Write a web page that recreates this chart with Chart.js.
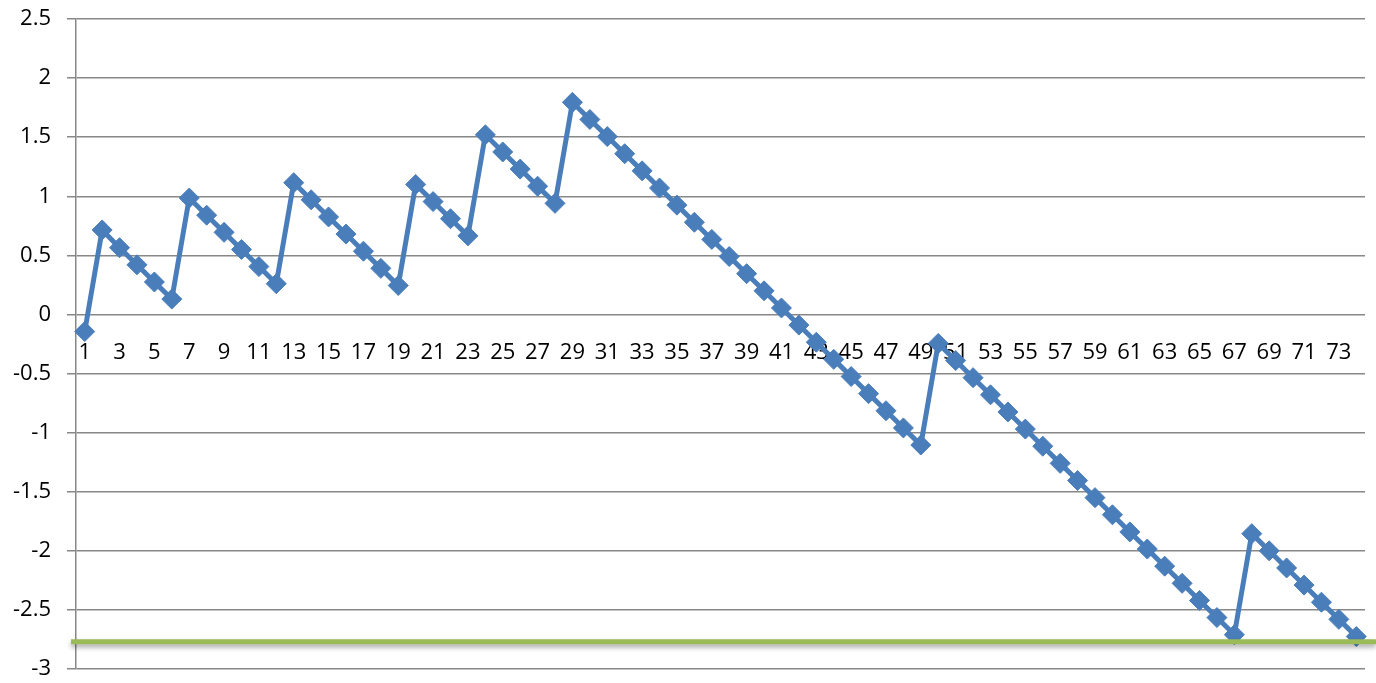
<!DOCTYPE html>
<html>
<head>
<meta charset="utf-8">
<title>Series</title>
<script src="https://cdn.jsdelivr.net/npm/chart.js@4/dist/chart.umd.min.js"></script>
<style>
  html, body { margin: 0; padding: 0; background: #ffffff; }
  #wrap { width: 1376px; height: 683px; position: relative; }
</style>
</head>
<body>
<div id="wrap"><canvas id="chart"></canvas></div>
<script>
// Category labels 1..74
const categories = [
  1, 2, 3, 4, 5, 6, 7, 8, 9, 10, 11, 12, 13, 14, 15, 16, 17, 18, 19, 20,
  21, 22, 23, 24, 25, 26, 27, 28, 29, 30, 31, 32, 33, 34, 35, 36, 37, 38, 39, 40,
  41, 42, 43, 44, 45, 46, 47, 48, 49, 50, 51, 52, 53, 54, 55, 56, 57, 58, 59, 60,
  61, 62, 63, 64, 65, 66, 67, 68, 69, 70, 71, 72, 73, 74
];

// Series values
const seriesValues = [
  -0.145, 0.715, 0.565, 0.42, 0.275, 0.13, 0.985, 0.84, 0.695, 0.55,
  0.405, 0.26, 1.115, 0.97, 0.825, 0.68, 0.535, 0.39, 0.245, 1.10,
  0.955, 0.81, 0.665, 1.52, 1.375, 1.23, 1.085, 0.94, 1.795, 1.65,
  1.505, 1.36, 1.215, 1.07, 0.925, 0.78, 0.635, 0.49, 0.345, 0.20,
  0.055, -0.09, -0.235, -0.38, -0.525, -0.67, -0.815, -0.96, -1.105, -0.245,
  -0.39, -0.535, -0.68, -0.825, -0.97, -1.115, -1.26, -1.405, -1.55, -1.695,
  -1.84, -1.985, -2.13, -2.275, -2.42, -2.565, -2.71, -1.855, -2.00, -2.145,
  -2.29, -2.435, -2.58, -2.725
];

// Horizontal reference level
const referenceLevel = [-2.77];

// Value axis range and step
const yTicks = [-3, -2.5, -2, -1.5, -1, -0.5, 0, 0.5, 1, 1.5, 2, 2.5];

const FONT = "'Open Sans', 'Liberation Sans', sans-serif";

// Draws the reference level as a flat green rule with a soft drop shadow
const referenceLinePlugin = {
  id: 'referenceLine',
  afterDatasetsDraw(chart) {
    const { ctx, chartArea, scales } = chart;
    const y = scales.y.getPixelForValue(referenceLevel[0]);
    ctx.save();
    ctx.beginPath();
    ctx.moveTo(chartArea.left - 5, y);
    ctx.lineTo(chart.width, y);
    ctx.strokeStyle = '#9bbb59';
    ctx.lineWidth = 5;
    ctx.shadowColor = 'rgba(0,0,0,0.35)';
    ctx.shadowBlur = 5;
    ctx.shadowOffsetY = 3;
    ctx.stroke();
    ctx.restore();
  }
};

new Chart(document.getElementById('chart'), {
  type: 'line',
  data: {
    labels: categories,
    datasets: [{
      data: seriesValues,
      borderColor: '#4a7ebb',
      backgroundColor: '#4a7ebb',
      borderWidth: 5,
      pointStyle: 'rectRot',
      pointRadius: 10,
      pointBorderWidth: 1,
      pointBorderColor: '#4a7ebb',
      pointBackgroundColor: '#4a7ebb',
      tension: 0,
      fill: false
    }]
  },
  options: {
    responsive: true,
    maintainAspectRatio: false,
    animation: false,
    events: [],
    layout: { padding: { top: 19, bottom: 14, right: 11, left: 0 } },
    plugins: {
      legend: { display: false },
      tooltip: { enabled: false }
    },
    scales: {
      x: {
        type: 'category',
        offset: true,
        position: { y: 0 },
        afterFit(scale) {
          scale.height = 0;
          scale.paddingLeft = 0;
          scale.paddingRight = 0;
        },
        grid: { display: false, drawTicks: false },
        border: { display: false },
        ticks: {
          autoSkip: false,
          maxRotation: 0,
          minRotation: 0,
          padding: 25,
          color: '#000000',
          font: { family: FONT, size: 22 },
          callback: function (value, index) {
            return index % 2 === 0 ? String(categories[index]) : '';
          }
        }
      },
      y: {
        min: yTicks[0],
        max: yTicks[yTicks.length - 1],
        afterBuildTicks(scale) {
          scale.ticks = yTicks.map(v => ({ value: v }));
        },
        afterFit(scale) {
          scale.width = 76;
          scale.paddingTop = 0;
          scale.paddingBottom = 0;
        },
        grid: {
          color: '#888888',
          lineWidth: 1.5,
          tickLength: 9,
          tickColor: '#888888'
        },
        border: { display: true, color: '#888888', width: 1.5 },
        ticks: {
          padding: 16,
          color: '#000000',
          font: { family: FONT, size: 22 },
          callback: v => String(v)
        }
      }
    }
  },
  plugins: [referenceLinePlugin]
});
</script>
</body>
</html>
